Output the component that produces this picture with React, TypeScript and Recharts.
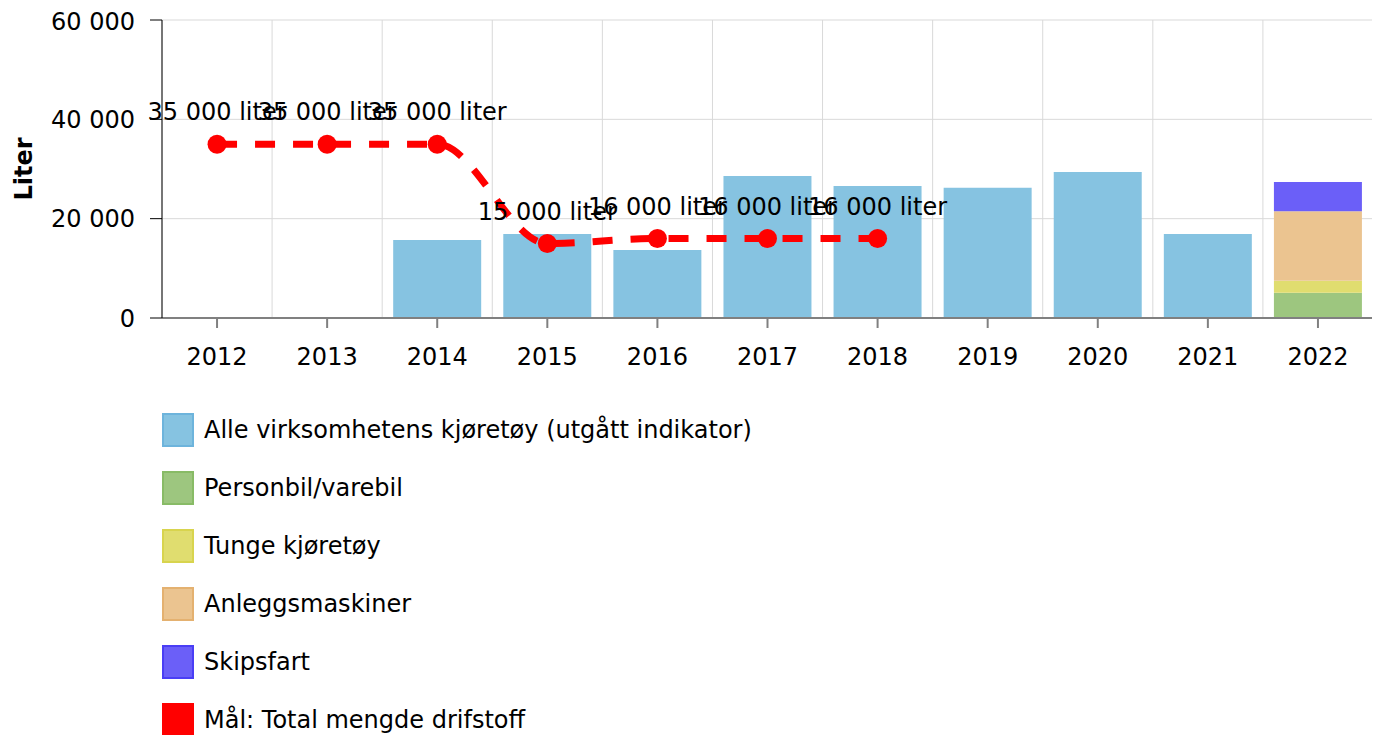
import React from "react";
import { ComposedChart, Bar, Line, XAxis, YAxis, CartesianGrid, Legend, LabelList } from "recharts";

// values (liter)
const years = ["2012", "2013", "2014", "2015", "2016", "2017", "2018", "2019", "2020", "2021", "2022"];
const alleKjoretoy = [null, null, 15700, 16900, 13700, 28600, 26600, 26200, 29400, 16900, null];
const personbil = [null, null, null, null, null, null, null, null, null, null, 5100];
const tungeKjoretoy = [null, null, null, null, null, null, null, null, null, null, 2400];
const anleggsmaskiner = [null, null, null, null, null, null, null, null, null, null, 14000];
const skipsfart = [null, null, null, null, null, null, null, null, null, null, 5900];
const maal = [35000, 35000, 35000, 15000, 16000, 16000, 16000, null, null, null, null];
const yTicks = [0, 20000, 40000, 60000];

const seriesNames = [
  "Alle virksomhetens kjøretøy (utgått indikator)",
  "Personbil/varebil",
  "Tunge kjøretøy",
  "Anleggsmaskiner",
  "Skipsfart",
  "Mål: Total mengde drifstoff",
];
const borderColors = ["#6db4dc", "#88bb66", "#d8d44e", "#e4b170", "#4a3ef5", "#ff0000"];

const data = years.map((year, i) => ({
  year,
  alle: alleKjoretoy[i],
  personbil: personbil[i],
  tunge: tungeKjoretoy[i],
  anlegg: anleggsmaskiner[i],
  skipsfart: skipsfart[i],
  maal: maal[i],
}));

const fmt = (v: number) => String(v).replace(/\B(?=(\d{3})+(?!\d))/g, " ");

const renderLegend = (props: any) => {
  const items = [...(props.payload || [])].sort(
    (a: any, b: any) => seriesNames.indexOf(a.value) - seriesNames.indexOf(b.value)
  );
  return (
    <div>
      {items.map((entry: any) => (
        <div key={entry.value} style={{ display: "flex", alignItems: "center", height: 58 }}>
          <span
            style={{
              display: "inline-block",
              width: 28,
              height: 30,
              background: entry.color,
              border: `2px solid ${borderColors[seriesNames.indexOf(entry.value)] || entry.color}`,
            }}
          />
          <span style={{ marginLeft: 10, fontSize: 24, color: "#000" }}>{entry.value}</span>
        </div>
      ))}
    </div>
  );
};

const YLabel = (props: any) => {
  const vb = props.viewBox;
  const x = vb.x + 16;
  const y = vb.y + vb.height / 2;
  return (
    <text
      x={x}
      y={y}
      transform={`rotate(-90, ${x}, ${y})`}
      textAnchor="middle"
      dominantBaseline="central"
      fontSize={24}
      fontWeight="bold"
      fill="#000"
    >
      Liter
    </text>
  );
};

export default function App() {
  return (
    <div style={{ width: 1372, height: 727, fontFamily: '"DejaVu Sans", Verdana, sans-serif' }}>
      <ComposedChart
        width={1372}
        height={727}
        data={data}
        margin={{ top: 12, right: 7, left: 0, bottom: 357 }}
        barCategoryGap="10%"
      >
        <CartesianGrid
          stroke="#d9d9d9"
          verticalCoordinatesGenerator={({ offset }: any) =>
            years.map((_, i) => offset.left + (i * offset.width) / years.length).concat(offset.left + offset.width)
          }
        />
        <XAxis
          dataKey="year"
          interval={0}
          height={60}
          stroke="#808080"
          strokeWidth={2}
          tickSize={10}
          tickMargin={20}
          tick={{ fill: "#000", fontSize: 24 }}
        />
        <YAxis
          width={154}
          domain={[0, 60000]}
          ticks={yTicks}
          tickFormatter={fmt}
          stroke="#000"
          tickSize={12}
          tickMargin={15}
          tick={{ fill: "#000", fontSize: 24 }}
          label={<YLabel />}
        />
        <Bar dataKey="alle" stackId="a" name={seriesNames[0]} fill="#86c3e1" isAnimationActive={false} />
        <Bar dataKey="personbil" stackId="a" name={seriesNames[1]} fill="#9dc67f" isAnimationActive={false} />
        <Bar dataKey="tunge" stackId="a" name={seriesNames[2]} fill="#e0dd6f" isAnimationActive={false} />
        <Bar dataKey="anlegg" stackId="a" name={seriesNames[3]} fill="#ebc490" isAnimationActive={false} />
        <Bar dataKey="skipsfart" stackId="a" name={seriesNames[4]} fill="#6b5ff8" isAnimationActive={false} />
        <Line
          dataKey="maal"
          name={seriesNames[5]}
          type="monotone"
          stroke="#ff0000"
          strokeWidth={7}
          strokeDasharray="20 18"
          dot={{ r: 9.5, fill: "#ff0000", stroke: "none" }}
          activeDot={false}
          isAnimationActive={false}
        >
          <LabelList
            dataKey="maal"
            position="top"
            offset={24}
            fontSize={24}
            fill="#000"
            formatter={(v: any) => (v == null ? "" : `${fmt(v)} liter`)}
          />
        </Line>
        <Legend
          layout="vertical"
          align="center"
          verticalAlign="middle"
          content={renderLegend}
          wrapperStyle={{ left: 154, top: 393, width: "auto", height: "auto" }}
        />
      </ComposedChart>
    </div>
  );
}
